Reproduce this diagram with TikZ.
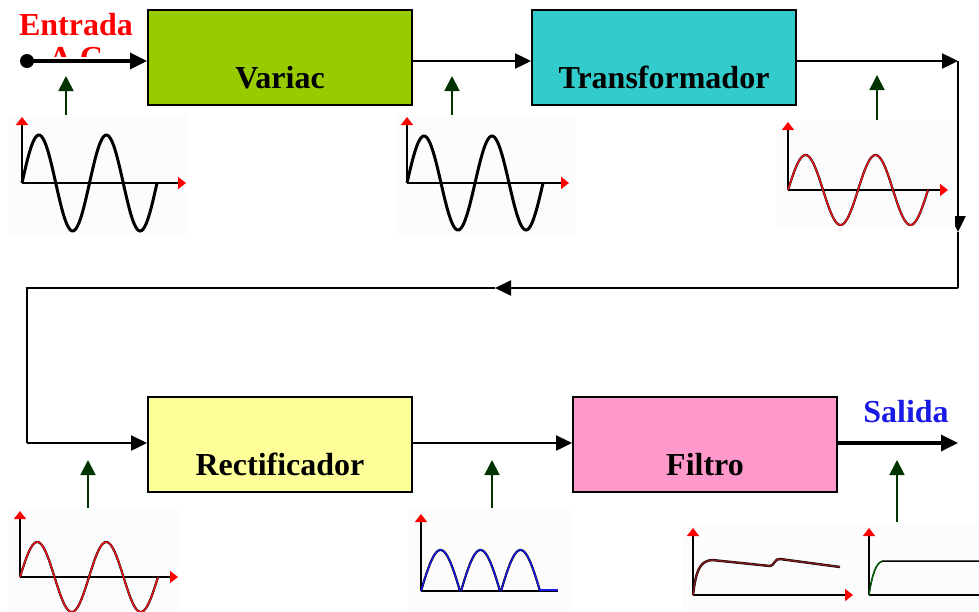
\documentclass[tikz,border=0pt]{standalone}
\usepackage{fontspec}
\setmainfont{Liberation Serif}
\usetikzlibrary{arrows.meta}
\definecolor{cvariac}{HTML}{99CC00}
\definecolor{ctrans}{HTML}{33CCCC}
\definecolor{crect}{HTML}{FFFF99}
\definecolor{cfilt}{HTML}{FF99CC}
\definecolor{dgreen}{HTML}{003300}
\definecolor{wred}{HTML}{E8151B}
\definecolor{dred}{HTML}{8B1A1A}
\definecolor{wblue}{HTML}{1A1AE6}
\tikzset{
  block/.style={draw=black, line width=2pt, minimum width=264pt, minimum height=95pt, inner sep=0pt},
  blabel/.style={font=\bfseries\fontsize{32}{36}\selectfont, anchor=base},
  flow/.style={draw=black, line width=2.4pt, -{Triangle[length=16pt,width=15pt]}},
  flowthick/.style={draw=black, line width=3.4pt, -{Triangle[length=17pt,width=16pt]}},
  plain/.style={draw=black, line width=2.4pt},
  sig/.style={draw=dgreen, line width=1.8pt, -{Triangle[length=15pt,width=15pt]}},
  axis/.style={draw=black, line width=1.6pt, -{Triangle[length=8pt,width=12pt,color=red]}},
  axisplain/.style={draw=black, line width=1.8pt},
  wave/.style={draw=black, line width=3pt},
  redwave/.style={draw=wred, line width=1.5pt},
  bg/.style={fill=black!1, draw=none},
}
\begin{document}
\begin{tikzpicture}[x=1pt,y=-1pt]
\useasboundingbox (0,0) rectangle (979,611);
% blocks
\node[block, fill=cvariac] (variac) at (280,57.5) {};
\node[blabel] at (280,88) {Variac};
\node[block, fill=ctrans] (trans) at (664,57.5) {};
\node[blabel] at (664,88) {Transformador};
\node[block, fill=crect] (rect) at (280,444.5) {};
\node[blabel] at (280,475) {Rectificador};
\node[block, fill=cfilt] (filt) at (705,444.5) {};
\node[blabel] at (705,475) {Filtro};

% labels
\node[font=\bfseries\fontsize{32}{36}\selectfont, text=red, anchor=base] (entr) at (76,35) {Entrada};
\begin{scope}
\clip (40,40) rectangle (140,56);
\node[font=\bfseries\fontsize{32}{36}\selectfont, text=red, anchor=base] (ac) at (80,68) {A.C.};
\end{scope}
\node[font=\bfseries\fontsize{32}{36}\selectfont, text=wblue, anchor=base] (sal) at (906,422) {Salida};

% coordinates
\coordinate (in) at (27,61);
\coordinate (c1) at (958,61);
\coordinate (c2) at (958,232);
\coordinate (c3) at (958,288);
\coordinate (c4) at (495,288);
\coordinate (c5) at (27,288);
\coordinate (c6) at (27,443);
\coordinate (out) at (958,443);

% flow connectors
\fill (in) circle (7pt);
\draw[flowthick] (in) -- (variac.west |- in);
\draw[flow] (variac.east |- in) -- (trans.west |- in);
\draw[flow] (trans.east |- c1) -- (c1);
\draw[flow] (c1) -- (c2);
\draw[plain] (c2) -- (c3);
\draw[flow] (c3) -- (c4);
\draw[plain] (c4) -- (c5) -- (c6);
\draw[flow] (c6) -- (rect.west |- c6);
\draw[flow] (rect.east |- c6) -- (filt.west |- c6);
\draw[flowthick] (filt.east |- out) -- (out);

% signal arrows
\coordinate (s1a) at (66,140); \coordinate (s1b) at (66,76);
\coordinate (s2a) at (452,140); \coordinate (s2b) at (452,76);
\coordinate (s3a) at (877,140); \coordinate (s3b) at (877,75);
\coordinate (s4a) at (88,525); \coordinate (s4b) at (88,460);
\coordinate (s5a) at (492,525); \coordinate (s5b) at (492,460);
\coordinate (s6a) at (897,525); \coordinate (s6b) at (897,460);
\draw[sig] (s1a) -- (s1b);
\draw[sig] (s2a) -- (s2b);
\draw[sig] (s3a) -- (s3b);
\draw[sig] (s4a) -- (s4b);
\draw[sig] (s5a) -- (s5b);
\draw[sig] (s6a) -- (s6b);

% waveform 1
\fill[bg] (8,115) rectangle (187,235);
\draw[axis] (22,183) -- (22,117);
\draw[axis] (22,183) -- (186,183);
\draw[wave] plot[smooth, domain=0:135, samples=90] ({22+\x},{183-48*sin(\x/135*720)});

% waveform 2
\fill[bg] (395,115) rectangle (575,235);
\draw[axis] (407,183) -- (407,117);
\draw[axis] (407,183) -- (569,183);
\draw[wave] plot[smooth, domain=0:136, samples=90] ({407+\x},{183-47*sin(\x/136*720)});

% waveform 3
\fill[bg] (776,120) rectangle (955,228);
\draw[axis] (788,190) -- (788,122);
\draw[axis] (788,190) -- (948,190);
\begin{scope}
\clip (776,120) rectangle (955,225);
\draw[wave, line width=2.2pt] plot[smooth, domain=0:140, samples=90] ({788+\x},{190-35*sin(\x/140*720)});
\draw[redwave] plot[smooth, domain=0:140, samples=90] ({788+\x},{190-35*sin(\x/140*720)});
\end{scope}

% waveform 4
\fill[bg] (8,508) rectangle (180,611);
\draw[axis] (20,577) -- (20,511);
\draw[axis] (20,577) -- (178,577);
\begin{scope}
\clip (8,508) rectangle (180,611);
\draw[wave, line width=2.2pt] plot[smooth, domain=0:138, samples=90] ({20+\x},{577-35*sin(\x/138*720)});
\draw[redwave] plot[smooth, domain=0:138, samples=90] ({20+\x},{577-35*sin(\x/138*720)});
\end{scope}

% waveform 5 (rectified)
\fill[bg] (408,508) rectangle (572,611);
\draw[axis] (421,591) -- (421,514);
\draw[axisplain] (421,591) -- (558,591);
\foreach \s in {0,40,80}{
  \draw[wave, line width=2.2pt] plot[smooth, domain=0:39, samples=30] ({421+\s+\x},{591-41*sin(\x/39*180)});
  \draw[draw=wblue, line width=1.4pt] plot[smooth, domain=0:39, samples=30] ({421+\s+\x},{591-41*sin(\x/39*180)});
}
\draw[draw=wblue, line width=1.6pt] (540,590) -- (558,590);

% waveform 6 (filter output 1)
\fill[bg] (682,522) rectangle (860,611);
\draw[axis] (693,595) -- (693,528);
\draw[axis] (693,595) -- (853,595);
\draw[draw=black, line width=2.4pt] (693,595) .. controls (696,570) and (700,561) .. (712,560) -- (770,566) .. controls (774,566) and (775,558) .. (780,559) -- (840,567);
\draw[draw=dred, line width=1.3pt] (693,595) .. controls (696,570) and (700,561) .. (712,560) -- (770,566) .. controls (774,566) and (775,558) .. (780,559) -- (840,567);

% waveform 7 (filter output 2)
\fill[bg] (860,522) rectangle (979,611);
\draw[axis] (869,595) -- (869,528);
\draw[axisplain] (869,595) -- (979,595);
\draw[draw=black, line width=1.5pt] (869,595) .. controls (872,575) and (876,562) .. (883,561) -- (979,561);
\draw[draw=dgreen!70!green, line width=1.1pt] (869,595) .. controls (872,575) and (876,562) .. (882,561.5);
\end{tikzpicture}
\end{document}
